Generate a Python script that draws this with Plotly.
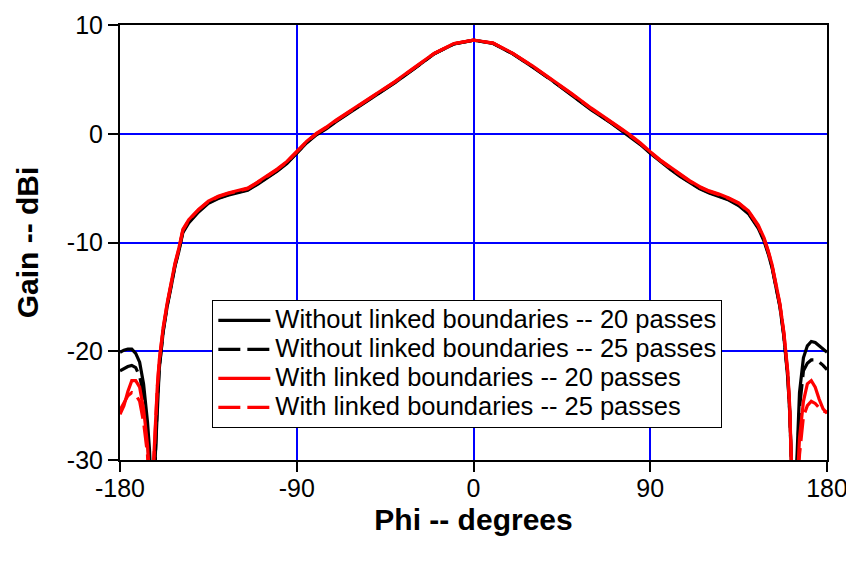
import plotly.graph_objects as go

PHI = [-180, -178, -176, -174, -172, -170, -168, -166, -165, -164, -163, -162, -161, -160,
       -158, -156, -154, -152, -150, -148,
       -145, -140, -135, -130, -125, -120, -115, -110, -105, -100, -95, -90, -85, -80, -75, -70,
       -60, -50, -40, -30, -20, -10,
       0,
       10, 20, 30, 40, 50, 60,
       70, 75, 80, 85, 90, 95, 100, 105, 110, 115, 120, 125, 130, 135, 140, 145,
       148, 150, 152, 154, 156, 158,
       160, 161, 162, 163, 164, 165, 166,
       168, 170, 172, 174, 176, 178, 180]

WITHOUT_20 = [-20.1, -19.9, -19.8, -19.8, -20.2, -21.0, -23.0, -26.5, -29.0, -33.0, -37.0, -29.5, -24.8, -21.6,
              -18.2, -15.9, -14.1, -12.2, -10.8, -9.1,
              -8.2, -7.2, -6.4, -5.95, -5.65, -5.45, -5.2, -4.65, -4.05, -3.45, -2.75, -1.8, -0.85, -0.1, 0.45, 1.1,
              2.3, 3.45, 4.7, 6.0, 7.35, 8.25,
              8.6,
              8.3, 7.35, 6.15, 4.9, 3.55, 2.2,
              1.0, 0.35, -0.3, -1.0, -1.8, -2.55, -3.25, -3.9, -4.5, -5.05, -5.45, -5.75, -6.1, -6.6, -7.35, -8.7,
              -9.9, -11.0, -12.3, -14.1, -15.9, -18.6,
              -22.4, -25.6, -29.5, -36.0, -33.0, -27.5, -23.8,
              -20.6, -19.5, -19.1, -19.2, -19.5, -19.8, -20.1]

WITHOUT_25 = [-21.8, -21.6, -21.4, -21.3, -21.5, -22.3, -24.0, -27.5, -30.5, -35.0, -35.0, -29.0, -24.6, -21.5,
              -18.1, -15.8, -14.0, -12.1, -10.7, -9.0,
              -8.1, -7.1, -6.35, -5.9, -5.6, -5.4, -5.15, -4.6, -4.0, -3.4, -2.7, -1.75, -0.8, -0.05, 0.5, 1.15,
              2.35, 3.5, 4.72, 6.02, 7.36, 8.26,
              8.6,
              8.32, 7.36, 6.18, 4.92, 3.58, 2.24,
              1.05, 0.4, -0.25, -0.95, -1.75, -2.5, -3.2, -3.85, -4.45, -5.0, -5.4, -5.7, -6.05, -6.55, -7.3, -8.6,
              -9.8, -10.9, -12.2, -14.0, -15.8, -18.5,
              -22.2, -25.4, -29.8, -37.0, -34.0, -29.0, -25.2,
              -21.8, -21.1, -20.8, -20.8, -21.0, -21.3, -21.7]

WITH_20 = [-25.8, -25.0, -23.7, -22.7, -22.7, -23.3, -25.3, -28.6, -31.5, -36.0, -30.5, -26.5, -23.2, -20.8,
           -17.8, -15.6, -13.8, -11.9, -10.5, -8.8,
           -7.9, -6.95, -6.2, -5.75, -5.45, -5.25, -5.0, -4.45, -3.85, -3.25, -2.55, -1.6, -0.7, 0.05, 0.6, 1.25,
           2.45, 3.6, 4.8, 6.1, 7.4, 8.3,
           8.62,
           8.35, 7.4, 6.25, 5.0, 3.7, 2.35,
           1.15, 0.5, -0.15, -0.85, -1.65, -2.4, -3.05, -3.7, -4.3, -4.85, -5.25, -5.55, -5.9, -6.35, -7.1, -8.4,
           -9.6, -10.7, -12.0, -13.8, -15.6, -18.2,
           -21.8, -25.0, -30.5, -37.0, -35.0, -31.0, -28.0,
           -24.6, -23.0, -22.7, -23.3, -24.4, -25.3, -25.7]

WITH_25 = [-25.4, -24.7, -24.1, -23.8, -24.0, -24.6, -26.5, -29.5, -33.0, -37.0, -31.0, -26.8, -23.4, -20.9,
           -17.9, -15.7, -13.9, -12.0, -10.6, -8.9,
           -7.95, -7.0, -6.25, -5.8, -5.5, -5.3, -5.05, -4.5, -3.9, -3.3, -2.6, -1.65, -0.75, 0.0, 0.55, 1.2,
           2.4, 3.55, 4.77, 6.07, 7.38, 8.28,
           8.6,
           8.33, 7.38, 6.22, 4.97, 3.65, 2.3,
           1.1, 0.45, -0.2, -0.9, -1.7, -2.45, -3.1, -3.75, -4.35, -4.9, -5.3, -5.6, -5.95, -6.4, -7.15, -8.5,
           -9.7, -10.8, -12.1, -13.9, -15.7, -18.3,
           -22.0, -25.2, -30.8, -37.5, -36.0, -32.5, -29.5,
           -26.0, -25.0, -24.6, -24.8, -25.2, -25.5, -25.6]

NAMES = ["Without linked boundaries -- 20 passes",
         "Without linked boundaries -- 25 passes",
         "With linked boundaries -- 20 passes",
         "With linked boundaries -- 25 passes"]

X_TICKS = [-180, -90, 0, 90, 180]
Y_TICKS = [-30, -20, -10, 0, 10]

FONT = "Liberation Sans, Arial, sans-serif"

fig = go.Figure()
series = [(WITHOUT_20, "black", "solid"),
          (WITHOUT_25, "black", "22px,7px"),
          (WITH_20, "red", "solid"),
          (WITH_25, "red", "22px,7px")]
for (vals, col, dash), name in zip(series, NAMES):
    fig.add_trace(go.Scatter(x=PHI, y=vals, mode="lines",
                             name='<span style="font-size:25.5px">' + name + '</span>',
                             line=dict(color=col, width=3.2, dash=dash)))

# the page body has an 8px default margin, so the figure is sized to fit the window
fig.update_layout(
    width=846, height=553,
    margin=dict(l=111.5, r=26.5, t=16.5, b=100.5, autoexpand=False),
    paper_bgcolor="white", plot_bgcolor="white",
    font=dict(family=FONT, color="black", size=25),
    showlegend=True,
    legend=dict(x=0.1306, y=0.368, xanchor="left", yanchor="top",
                bgcolor="white", bordercolor="black", borderwidth=1,
                font=dict(size=20, family=FONT), itemwidth=52,
                tracegroupgap=0),
)
fig.update_xaxes(range=[-180, 180], tickvals=X_TICKS, ticktext=[str(v) for v in X_TICKS],
                 showgrid=True, gridcolor="rgb(0,0,255)", gridwidth=1.5,
                 showline=True, linecolor="black", linewidth=2, mirror=True,
                 ticks="outside", ticklen=10, tickcolor="black", tickwidth=1.5,
                 tickfont=dict(size=25, family=FONT), ticklabelstandoff=-5,
                 zeroline=False, automargin=False,
                 title=dict(text="<b>Phi -- degrees</b>", font=dict(size=30, family=FONT), standoff=8))
fig.update_yaxes(range=[-30, 10], tickvals=Y_TICKS, ticktext=[str(v) for v in Y_TICKS],
                 showgrid=True, gridcolor="rgb(0,0,255)", gridwidth=1.5,
                 showline=True, linecolor="black", linewidth=2, mirror=True,
                 ticks="outside", ticklen=10, tickcolor="black", tickwidth=1.5,
                 tickfont=dict(size=25, family=FONT),
                 zeroline=False, automargin=False,
                 title=dict(text="<b>Gain -- dBi</b>", font=dict(size=30, family=FONT), standoff=19))

fig.write_html("out.html")
